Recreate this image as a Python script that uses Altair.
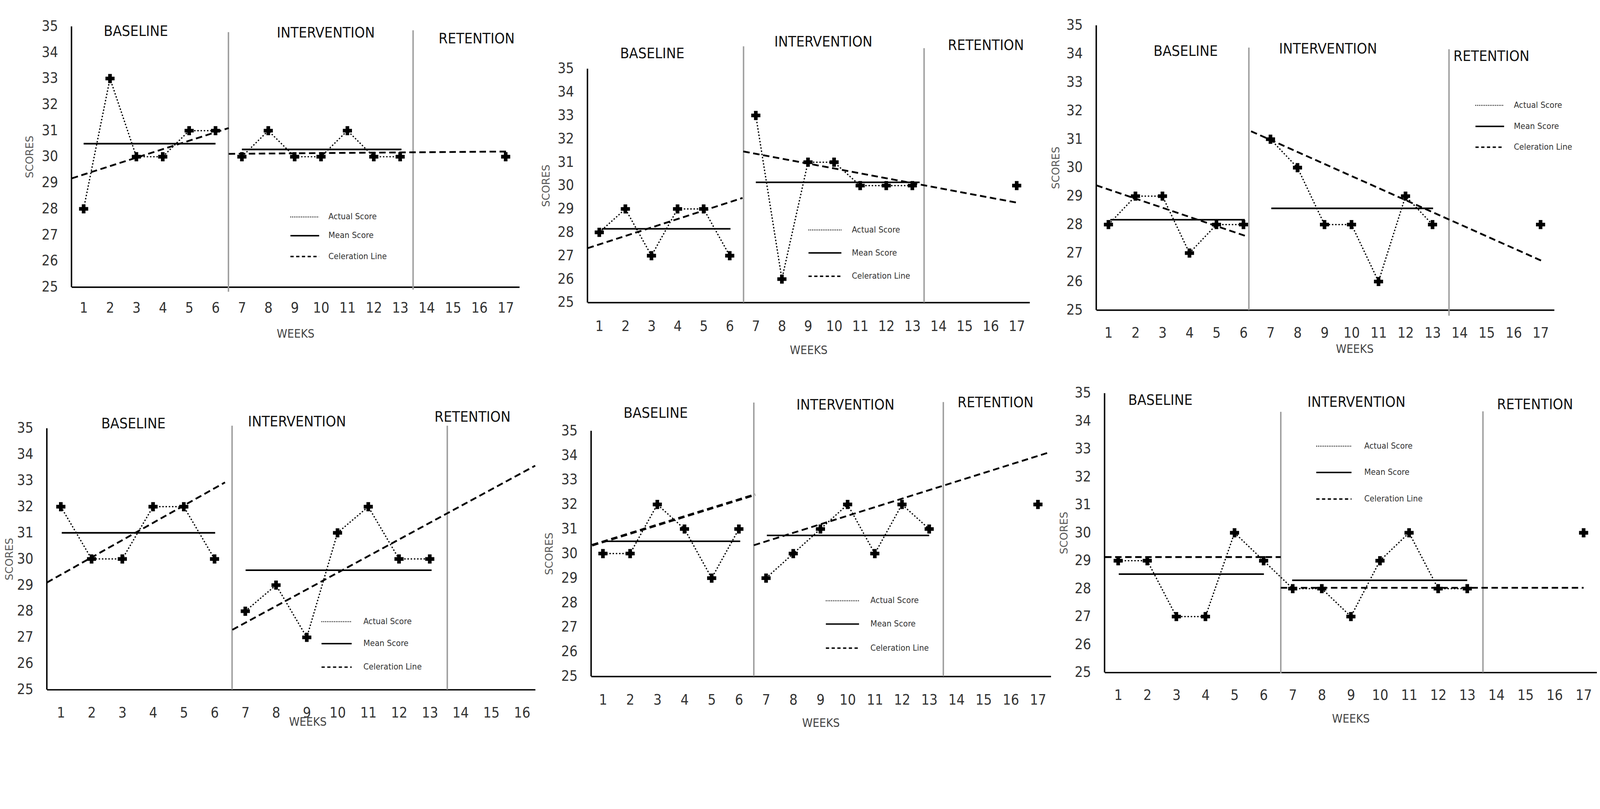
import altair as alt
import pandas as pd

FONT_N = "DejaVu Sans Condensed, DejaVu Sans, sans-serif"
FONT_T = "DejaVu Sans, Open Sans, sans-serif"

BASE_WEEKS = [1, 2, 3, 4, 5, 6]
INT_WEEKS = [7, 8, 9, 10, 11, 12, 13]
RET_WEEKS = [17]
Y_TICKS = list(range(25, 36))
X_TICKS_17 = list(range(1, 18))
X_TICKS_16 = list(range(1, 17))
PHASE_NAMES = ["BASELINE", "INTERVENTION", "RETENTION"]
LEGEND_NAMES = ["Actual Score", "Mean Score", "Celeration Line"]

# ---------------- Panel 1 (top left)
P1_BASE = [28, 33, 30, 30, 31, 31]
P1_INT = [30, 31, 30, 30, 31, 30, 30]
P1_RET = [30]
P1_MEAN_Y = [30.5, 30.28]
P1_MEAN_X = [[1, 6], [7, 13.05]]
P1_CEL = [[0.55, 29.17, 6.5, 31.1], [6.5, 30.11, 17.1, 30.2]]
P1_PH_X = [6.49, 13.49]
P1_PH_TOP = [34.78, 34.85]
P1_PH_BOT = [24.82, 24.9]
P1_LAB_X = [2.98, 10.18, 15.9]
P1_LAB_Y = [34.8, 34.74, 34.52]
P1_LEG_X = [8.84, 9.93, 10.28]
P1_LEG_Y = [27.69, 26.97, 26.17]

# ---------------- Panel 2 (top middle)
P2_BASE = [28, 29, 27, 29, 29, 27]
P2_INT = [33, 26, 31, 31, 30, 30, 30]
P2_RET = [30]
P2_MEAN_Y = [28.15, 30.14]
P2_MEAN_X = [[1.1, 6.03], [7.0, 13.28]]
P2_CEL = [[0.55, 27.32, 6.49, 29.47], [6.52, 31.46, 17.1, 29.25]]
P2_PH_X = [6.53, 13.45]
P2_PH_TOP = [35.96, 35.88]
P2_PH_BOT = [25, 25]
P2_LAB_X = [3.03, 9.59, 15.82]
P2_LAB_Y = [35.63, 36.13, 35.98]
P2_LEG_X = [9.02, 10.28, 10.68]
P2_LEG_Y = [28.1, 27.12, 26.12]

# ---------------- Panel 3 (top right)
P3_BASE = [28, 29, 29, 27, 28, 28]
P3_INT = [31, 30, 28, 28, 26, 29, 28]
P3_RET = [28]
P3_MEAN_Y = [28.17, 28.57]
P3_MEAN_X = [[1.07, 6.05], [7.03, 13.02]]
P3_CEL = [[0.55, 29.38, 6.05, 27.61], [6.28, 31.28, 17.13, 26.69]]
P3_PH_X = [6.2, 13.61]
P3_PH_TOP = [34.22, 34.16]
P3_PH_BOT = [25, 24.8]
P3_LAB_X = [3.86, 9.13, 15.18]
P3_LAB_Y = [34.08, 34.16, 33.9]
P3_LEG_X = [14.59, 15.65, 16.01]
P3_LEG_Y = [32.19, 31.45, 30.72]

# ---------------- Panel 4 (bottom left)
P4_BASE = [32, 30, 30, 32, 32, 30]
P4_INT = [28, 29, 27, 31, 32, 30, 30]
P4_RET = []
P4_MEAN_Y = [31.0, 29.57]
P4_MEAN_X = [[1.03, 6.02], [7.01, 13.06]]
P4_CEL = [[0.55, 29.1, 6.34, 32.93], [6.58, 27.29, 16.43, 33.57]]
P4_PH_X = [6.57, 13.57]
P4_PH_TOP = [35.1, 35.1]
P4_PH_BOT = [25, 25]
P4_LAB_X = [3.36, 8.68, 14.39]
P4_LAB_Y = [35.16, 35.23, 35.41]
P4_LEG_X = [9.48, 10.46, 10.84]
P4_LEG_Y = [27.6, 26.76, 25.86]

# ---------------- Panel 5 (bottom middle)
P5_BASE = [30, 30, 32, 31, 29, 31]
P5_INT = [29, 30, 31, 32, 30, 32, 31]
P5_RET = [32]
P5_MEAN_Y = [30.5, 30.74]
P5_MEAN_X = [[1.09, 6.05], [7.03, 13.0]]
P5_CEL = [[0.6, 30.34, 6.6, 32.4], [6.55, 30.34, 17.38, 34.11]]
P5_PH_X = [6.55, 13.52]
P5_PH_TOP = [36.15, 36.17]
P5_PH_BOT = [25, 25]
P5_LAB_X = [2.94, 9.92, 15.44]
P5_LAB_Y = [35.7, 36.04, 36.14]
P5_LEG_X = [9.2, 10.42, 10.84]
P5_LEG_Y = [28.08, 27.13, 26.15]

# ---------------- Panel 6 (bottom right)
P6_BASE = [29, 29, 27, 27, 30, 29]
P6_INT = [28, 28, 27, 29, 30, 28, 28]
P6_RET = [30]
P6_MEAN_Y = [28.52, 28.3]
P6_MEAN_X = [[1.02, 6.01], [6.98, 13.0]]
P6_CEL = [[0.55, 29.13, 6.59, 29.13], [6.59, 28.03, 17.0, 28.03]]
P6_PH_X = [6.59, 13.54]
P6_PH_TOP = [34.33, 34.35]
P6_PH_BOT = [24.97, 25]
P6_LAB_X = [2.45, 9.19, 15.33]
P6_LAB_Y = [34.74, 34.66, 34.58]
P6_LEG_X = [7.81, 9.02, 9.46]
P6_LEG_Y = [33.1, 32.16, 31.21]


def panel(base, intr, ret, join, mean_y, mean_x, cel, cel_w, ph_x, ph_top, ph_bot,
          lab_x, lab_y, leg_x, leg_y, lay):
    xs = alt.Scale(domain=lay["xdom"], nice=False, zero=False)
    ys = alt.Scale(domain=[25, lay["ytop"]], nice=False, zero=False)
    ty = (lay["ytop"] - 30) / (lay["ytop"] - 25) * lay["h"]
    xaxis = alt.Axis(values=lay["xticks"], title="WEEKS", grid=False, ticks=False,
                     domain=True, domainColor="black", domainWidth=4,
                     labelFont=FONT_N, labelFontSize=40, labelColor="#333333",
                     labelPadding=lay["xlp"], labelFlush=False,
                     titleFont=FONT_N, titleFontSize=33, titleFontWeight="normal",
                     titleColor="#444444", titleX=lay["xtx"], titleY=lay["xty"],
                     titleBaseline="top", titleAlign="center")
    yaxis = alt.Axis(values=Y_TICKS, title="SCORES", grid=False, ticks=False, domain=False,
                     labelFont=FONT_N, labelFontSize=40, labelColor="#333333",
                     labelPadding=38, labelFlush=False,
                     titleFont=FONT_T, titleFontSize=29, titleFontWeight="normal",
                     titleColor="#595959", titleX=lay["ytx"], titleY=ty,
                     titleAngle=270, titleBaseline="bottom", titleAlign="center")

    def X(f="x"):
        return alt.X(f, type="quantitative", scale=xs, axis=xaxis)

    def Y(f="y"):
        return alt.Y(f, type="quantitative", scale=ys, axis=yaxis)

    # tables built from the lists
    pts = pd.DataFrame({"x": BASE_WEEKS + INT_WEEKS + RET_WEEKS[:len(ret)],
                        "y": base + intr + ret})
    if join:
        seg = [0] * 13
    else:
        seg = [0] * 6 + [1] * 7
    act = pd.DataFrame({"x": BASE_WEEKS + INT_WEEKS, "y": base + intr, "seg": seg})
    mean = pd.DataFrame({"x": [m[0] for m in mean_x], "x2": [m[1] for m in mean_x],
                         "y": mean_y})
    celd = pd.DataFrame({"x": [c[0] for c in cel], "y": [c[1] for c in cel],
                         "x2": [c[2] for c in cel], "y2": [c[3] for c in cel],
                         "w": cel_w})
    ph = pd.DataFrame({"x": ph_x, "y": ph_bot, "y2": ph_top})
    yline = pd.DataFrame({"x": [lay["xdom"][0]], "y": [25], "y2": [35]})
    labs = pd.DataFrame({"x": lab_x, "y": lab_y, "t": PHASE_NAMES})
    leg = pd.DataFrame({"x": [leg_x[0]] * 3, "x2": [leg_x[1]] * 3, "xt": [leg_x[2]] * 3,
                        "y": leg_y, "t": LEGEND_NAMES})

    layers = [
        alt.Chart(ph).mark_rule(color="#9d9d9d", strokeWidth=4).encode(
            x=X(), y=Y(), y2="y2"),
        alt.Chart(yline).mark_rule(color="black", strokeWidth=4).encode(
            x=X(), y=Y(), y2="y2"),
        alt.Chart(celd).mark_rule(color="black", strokeDash=[18, 10]).encode(
            x=X(), y=Y(), x2="x2", y2="y2",
            strokeWidth=alt.StrokeWidth("w:Q", scale=None)),
        alt.Chart(mean).mark_rule(color="black", strokeWidth=4.5).encode(
            x=X(), x2="x2", y=Y()),
        alt.Chart(act).mark_line(color="black", strokeWidth=3.5, strokeDash=[4, 5]).encode(
            x=X(), y=Y(), detail="seg:N"),
        alt.Chart(pts).mark_point(shape="cross", filled=True, color="black", size=650,
                                  opacity=1).encode(x=X(), y=Y()),
        alt.Chart(labs).mark_text(font=FONT_N, fontSize=41, color="#111111",
                                  align="center", baseline="middle").encode(
            x=X(), y=Y(), text="t:N"),
        alt.Chart(leg.iloc[[0]]).mark_rule(color="black", strokeWidth=3,
                                           strokeDash=[2, 3]).encode(
            x=X(), x2="x2", y=Y()),
        alt.Chart(leg.iloc[[1]]).mark_rule(color="black", strokeWidth=4).encode(
            x=X(), x2="x2", y=Y()),
        alt.Chart(leg.iloc[[2]]).mark_rule(color="black", strokeWidth=4,
                                           strokeDash=[9, 7]).encode(
            x=X(), x2="x2", y=Y()),
        alt.Chart(leg).mark_text(font=FONT_N, fontSize=24, color="#333333",
                                 align="left", baseline="middle").encode(
            x=X("xt"), y=Y(), text="t:N"),
    ]
    return alt.layer(*layers).properties(width=lay["w"], height=lay["h"])


L1 = dict(xdom=[0.54, 17.52], ytop=35.426, w=1250, h=758, xlp=39, xty=115, xtx=625, ytx=-101, xticks=X_TICKS_17)
L2 = dict(xdom=[0.547, 17.495], ytop=37.285, w=1234, h=801, xlp=47, xty=117, xtx=617, ytx=-100, xticks=X_TICKS_17)
L3 = dict(xdom=[0.549, 17.504], ytop=35.353, w=1278, h=822, xlp=45, xty=93, xtx=721, ytx=-97, xticks=X_TICKS_17)
L4 = dict(xdom=[0.545, 16.43], ytop=36.715, w=1363, h=854, xlp=45, xty=74, xtx=728, ytx=-89, xticks=X_TICKS_16)
L5 = dict(xdom=[0.565, 17.474], ytop=36.927, w=1283, h=817, xlp=46, xty=115, xtx=641, ytx=-102, xticks=X_TICKS_17)
L6 = dict(xdom=[0.532, 17.456], ytop=35.347, w=1374, h=806, xlp=44, xty=114, xtx=687, ytx=-98, xticks=X_TICKS_17)

p1 = panel(P1_BASE, P1_INT, P1_RET, False, P1_MEAN_Y, P1_MEAN_X, P1_CEL, [5, 5], P1_PH_X, P1_PH_TOP, P1_PH_BOT, P1_LAB_X, P1_LAB_Y, P1_LEG_X, P1_LEG_Y, L1)
p2 = panel(P2_BASE, P2_INT, P2_RET, False, P2_MEAN_Y, P2_MEAN_X, P2_CEL, [5, 5], P2_PH_X, P2_PH_TOP, P2_PH_BOT, P2_LAB_X, P2_LAB_Y, P2_LEG_X, P2_LEG_Y, L2)
p3 = panel(P3_BASE, P3_INT, P3_RET, False, P3_MEAN_Y, P3_MEAN_X, P3_CEL, [5, 5], P3_PH_X, P3_PH_TOP, P3_PH_BOT, P3_LAB_X, P3_LAB_Y, P3_LEG_X, P3_LEG_Y, L3)
p4 = panel(P4_BASE, P4_INT, P4_RET, False, P4_MEAN_Y, P4_MEAN_X, P4_CEL, [5, 5], P4_PH_X, P4_PH_TOP, P4_PH_BOT, P4_LAB_X, P4_LAB_Y, P4_LEG_X, P4_LEG_Y, L4)
p5 = panel(P5_BASE, P5_INT, P5_RET, False, P5_MEAN_Y, P5_MEAN_X, P5_CEL, [7, 5], P5_PH_X, P5_PH_TOP, P5_PH_BOT, P5_LAB_X, P5_LAB_Y, P5_LEG_X, P5_LEG_Y, L5)
p6 = panel(P6_BASE, P6_INT, P6_RET, True, P6_MEAN_Y, P6_MEAN_X, P6_CEL, [5, 5], P6_PH_X, P6_PH_TOP, P6_PH_BOT, P6_LAB_X, P6_LAB_Y, P6_LEG_X, P6_LEG_Y, L6)

row1 = alt.hconcat(p1, p2, p3, spacing=60)
row2 = alt.hconcat(p4, p5, p6, spacing=22)

chart = alt.vconcat(row1, row2, spacing=76, center=True).properties(
    padding={"left": 4, "top": -50, "right": 0, "bottom": -80},
    background="white",
).configure_view(stroke=None)

chart.save("out.html", embed_options={"renderer": "svg", "actions": False})
